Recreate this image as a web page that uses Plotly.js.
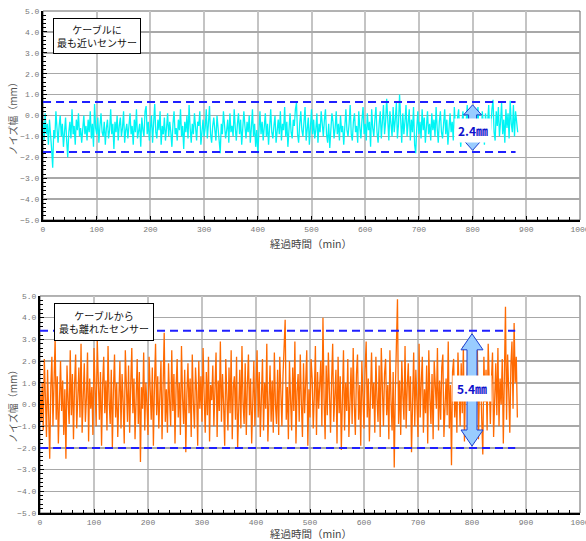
<!DOCTYPE html>
<html>
<head>
<meta charset="utf-8">
<script src="https://cdn.plot.ly/plotly-3.0.1.min.js"></script>
<style>html,body{margin:0;padding:0;background:#fff;}#chart{width:586px;height:541px;}</style>
</head>
<body>
<div id="chart"></div>
<script>
// time axis: start and step (minutes)
var timeStart = 0;
var timeStep = 2;

// sensor closest to the cable (mm)
var nearNoise = [
-0.3,-1.2,0.1,-0.9,-0.4,-1.4,-0.2,-0.8,-1.6,-2.5,-0.7,-1.1,0.2,-0.6,-1.3,-0.5,0.0,-1.0,-0.4,-1.5,
-0.6,-0.1,-1.2,-2.0,-0.8,-0.3,-1.1,0.3,-0.9,-0.5,-1.4,-0.2,-0.7,0.1,-1.0,-0.6,-1.3,-0.4,0.0,-0.9,
-0.5,-1.2,-0.2,-0.8,0.2,-1.1,-0.4,-1.5,0.55,-0.6,-0.9,-0.1,-1.3,-0.5,0.1,-0.8,-1.0,-0.3,-1.4,-0.6,
-0.2,-1.1,-0.7,0.3,-0.9,-0.4,-1.6,-0.3,-0.8,0.0,-1.2,-0.5,-0.1,-1.0,-0.6,0.2,-1.3,-0.7,-0.4,-1.1,
-0.3,0.1,-0.9,-0.5,-1.4,-0.2,-0.8,0.3,-1.1,-0.6,-0.4,-1.5,-0.1,-0.7,-1.0,0.2,0.45,-0.9,-0.3,-1.2,
-0.6,0.0,-1.3,-0.4,0.55,-0.8,-1.1,-0.2,-0.7,0.2,-1.4,-0.5,-0.9,-0.1,-1.2,-0.6,0.1,-1.0,-0.3,-0.8,
-1.5,-0.4,0.2,-0.9,-0.6,-1.2,-0.2,-0.7,0.3,-1.0,-0.5,-1.6,-0.3,-0.8,0.0,-1.1,0.5,-0.6,-1.3,-0.4,
-0.9,0.1,-0.7,-1.2,-0.3,-0.5,0.2,-1.4,-0.8,-0.2,-1.0,-0.6,0.3,-1.1,-0.4,0.45,-0.9,-1.3,-0.5,-0.1,
-0.7,-1.2,0.0,-0.6,-1.5,-1.8,-0.4,-0.9,0.2,-0.3,-1.1,-0.7,-0.2,-1.3,0.1,-0.8,-0.5,-1.0,0.3,-0.6,
-1.2,-0.4,0.1,-0.9,-0.2,-1.4,-0.7,0.2,-0.5,-1.1,-0.3,-0.8,0.0,-1.3,-0.6,0.3,-1.0,-0.4,-1.5,-0.7,
-1.8,-0.5,0.2,-0.9,-0.3,-1.2,-0.6,0.1,-1.0,-0.4,-1.4,-0.2,0.3,-0.8,-1.1,-0.5,0.0,-1.3,-0.7,-0.2,
-0.9,0.2,-1.2,-0.4,-0.7,0.4,-1.0,-0.3,-1.5,-0.6,0.1,-0.8,-1.1,-0.2,-0.5,0.3,0.6,-0.9,-1.3,-0.4,
0.2,-0.7,-1.0,-0.3,0.4,-1.2,-0.6,-0.1,-1.4,-0.5,0.3,-0.9,-0.2,-1.1,-0.7,0.1,-1.3,-0.4,-0.8,0.2,
-0.5,-1.0,-0.2,0.3,-0.9,-1.3,-0.4,-1.55,-0.7,0.1,-0.3,-1.1,-0.6,0.2,-0.9,-0.4,-1.2,0.0,-0.8,-0.5,
-1.4,-0.2,0.3,-0.7,-1.0,-0.4,0.5,-0.9,-1.2,-0.3,0.1,-0.8,-0.5,-1.3,0.2,-0.6,-1.1,-0.2,0.4,-0.9,
-0.4,-1.2,0.1,-0.7,-0.3,-1.5,0.3,-0.6,-1.0,-0.2,0.4,-0.8,-1.3,-0.4,0.2,-1.1,-0.5,0.5,-0.9,-0.3,
0.8,-0.7,-1.2,0.2,-0.5,-1.0,0.4,-0.8,-0.2,0.6,-1.1,-0.4,1.0,-0.6,-1.3,0.1,-0.9,-0.3,0.5,-1.0,
-0.5,0.3,-1.2,-0.2,-0.8,0.4,-1.4,-1.8,-0.6,0.2,-0.9,-0.3,-1.1,0.3,-0.7,-0.1,-1.3,-0.5,0.2,-0.9,
-0.4,-1.2,0.1,-0.7,-0.2,-1.0,0.4,-0.6,-1.3,-0.3,0.2,-0.8,-1.1,-0.4,0.3,-0.9,-0.2,-1.4,-0.6,0.1,
-0.8,-0.3,-1.2,0.4,-0.6,-1.0,-0.1,0.3,-0.9,-1.5,-0.4,0.2,-0.7,-1.1,-0.3,0.5,-0.8,-1.2,0.0,-0.5,
-1.0,0.3,-0.6,-1.3,-0.2,0.4,-0.9,-0.5,-1.1,0.2,-0.4,-1.4,0.1,-0.7,-0.3,0.5,-1.0,-0.6,0.3,0.75,
-0.8,-1.2,0.2,-0.5,0.4,-1.0,-0.3,0.6,-0.9,-0.2,-1.3,0.3,-0.6,0.1,-1.1,0.7,-0.4,-0.8,0.5,-1.0,
0.2,-0.4,-0.8
];

// sensor farthest from the cable (mm)
var farNoise = [
0.5,-0.8,1.0,-1.2,2.1,0.3,-1.5,1.6,-0.4,-2.5,0.8,2.2,-1.0,0.6,3.05,-0.7,1.3,-1.8,0.4,2.0,
-0.3,1.1,-1.4,0.7,-2.5,1.8,0.2,-0.9,2.5,-0.5,1.4,-1.6,0.9,2.3,-1.1,0.1,1.7,-0.6,2.8,-1.3,
0.6,1.9,-0.8,0.3,2.4,-1.7,1.2,-0.2,0.8,-1.4,2.6,0.0,-1.0,3.0,0.5,-0.7,1.5,-1.9,0.9,2.2,
-0.4,1.1,-1.2,2.7,0.2,-0.9,1.6,-2.0,0.7,2.3,-0.6,1.0,-1.5,0.4,2.0,-1.1,1.4,0.1,-1.8,2.5,
0.3,-0.8,1.8,-1.3,0.9,2.6,-0.4,1.2,-1.6,0.5,2.1,-0.9,1.5,-2.65,0.8,-0.2,2.4,-1.2,1.0,0.0,
-1.4,2.2,0.6,-0.7,1.7,-1.9,0.9,2.8,-0.5,1.3,-1.1,0.4,2.0,-1.6,1.1,3.3,-0.8,0.7,-1.3,1.9,
0.2,-1.0,2.5,-0.3,1.4,-1.8,0.8,2.1,-0.6,1.0,-1.4,2.7,0.3,-0.9,1.6,-2.2,0.5,1.9,-0.4,1.2,
-1.5,2.3,0.1,-1.1,1.7,0.6,-1.9,2.0,-0.2,1.3,-0.8,2.6,0.4,-1.3,1.5,-0.5,2.2,-1.7,0.9,0.2,
1.8,-1.0,0.7,2.4,-1.5,1.1,-0.3,2.9,-0.8,1.4,0.0,-1.9,2.1,0.5,-1.2,1.7,-0.4,2.5,-1.6,0.8,
1.3,-0.7,2.2,-2.0,0.6,1.6,-1.1,2.7,0.1,-0.9,1.9,-1.4,0.9,2.3,-0.5,1.2,-1.8,0.4,2.0,-1.0,
0.7,2.5,-0.6,1.5,-1.5,0.3,2.1,-1.2,1.0,-0.2,2.8,-1.7,0.5,1.8,-0.8,1.1,-1.3,2.4,0.0,-0.9,
1.6,-1.4,2.2,0.4,-1.0,1.3,2.6,3.9,-0.7,0.8,-1.6,2.0,0.2,-1.2,1.7,-0.3,2.9,-1.8,0.6,1.4,
-0.8,2.3,0.1,-1.5,1.9,-0.4,1.0,2.5,-1.9,0.7,-0.6,2.1,1.2,-1.1,0.4,2.7,-1.4,1.5,-0.2,0.9,
2.0,-1.0,4.0,0.3,-1.6,1.8,-0.5,2.4,0.6,-1.3,1.1,2.8,-0.8,0.2,1.6,-1.8,2.2,-0.4,1.3,-2.1,
0.8,2.5,-1.2,1.0,-0.3,2.1,-1.5,0.5,1.7,-0.9,2.6,0.0,-1.4,1.4,2.3,-0.7,0.9,-1.9,2.0,0.4,
-1.1,1.6,2.9,-0.6,1.2,-1.7,0.7,2.4,-0.2,1.0,-1.3,2.2,0.3,-0.8,1.8,-1.5,2.6,0.5,-1.0,1.4,
2.1,-0.5,0.9,-1.6,2.5,0.2,-1.2,1.5,-2.9,0.6,2.3,4.85,-0.9,1.1,-1.4,2.0,0.4,-0.7,2.7,-1.1,
0.8,1.9,-0.3,1.3,-2.2,0.5,2.4,-1.0,1.6,0.1,-1.5,2.8,-0.6,1.0,2.2,-1.3,0.7,-0.4,1.8,-1.8,
2.5,0.3,-0.9,1.4,-1.6,2.0,0.6,-0.2,2.6,-1.2,1.1,-0.7,1.7,2.3,-1.5,0.4,1.2,-0.5,2.9,-1.1,
0.9,-2.8,1.5,2.1,-0.6,0.8,-1.3,2.4,0.2,-1.0,1.9,-0.4,2.7,-1.7,1.0,0.3,2.2,-0.8,1.4,-1.4,
2.0,0.5,-1.1,1.7,-0.3,2.5,-1.6,0.9,1.3,-0.7,-2.3,2.2,0.1,1.6,-1.2,2.8,0.4,-0.9,1.1,2.4,
-1.5,0.7,1.9,-0.5,2.6,-1.0,1.2,0.0,2.1,-1.8,1.5,4.5,-0.7,2.3,0.6,-1.3,1.8,2.9,-0.2,3.75,
1.0,2.2,-0.6
];

// band limits (mm) and band labels
var nearBand = [0.65, -1.75];
var farBand = [3.4, -2.0];
var bandEnd = 880;
var arrowAt = 800;
var nearLabel = "2.4㎜";
var farLabel = "5.4㎜";
var nearTitle = "ケーブルに<br>最も近いセンサー";
var farTitle = "ケーブルから<br>最も離れたセンサー";
var xTitle = "経過時間（min）";
var yTitle = "ノイズ幅（mm）";

var tickFont = {family: "Liberation Mono, DejaVu Sans Mono, monospace", size: 8, color: "#777"};
var jp = "Noto Sans CJK JP, sans-serif";

function xAxis(domain, anchor) {
  return {
    domain: domain, anchor: anchor, range: [0, 1000], dtick: 100, tick0: 0,
    showgrid: true, gridcolor: "#c4c4c4", gridwidth: 2,
    zeroline: false, showline: true, linecolor: "#000", linewidth: 2,
    ticks: "inside", ticklen: 4, tickcolor: "#000", tickwidth: 1,
    minor: {ticks: "inside", dtick: 20, ticklen: 3, tickcolor: "#000", showgrid: false},
    tickfont: tickFont, ticklabeloverflow: "allow", fixedrange: true
  };
}
function yAxis(domain, anchor) {
  return {
    domain: domain, anchor: anchor, range: [-5, 5], dtick: 1, tick0: 0, tickformat: ".1f",
    showgrid: true, gridcolor: "#a8a8a8", gridwidth: 1.5,
    zeroline: false, showline: true, linecolor: "#000", linewidth: 2,
    ticks: "inside", ticklen: 4, tickcolor: "#000", tickwidth: 1,
    minor: {ticks: "inside", dtick: 0.2, ticklen: 3, tickcolor: "#000", showgrid: false},
    tickfont: tickFont, ticklabeloverflow: "allow", fixedrange: true
  };
}

function arrowPath(top, bot, hw, sw, hh) {
  var t = top, b = bot, ht = top - hh, hb = bot + hh;
  return "M0," + t + " L" + hw + "," + ht + " L" + sw + "," + ht + " L" + sw + "," + hb +
    " L" + hw + "," + hb + " L0," + b + " L" + (-hw) + "," + hb + " L" + (-sw) + "," + hb +
    " L" + (-sw) + "," + ht + " L" + (-hw) + "," + ht + " Z";
}

function bandShapes(xr, yr, band, tipInset, headH, hw, sw) {
  var s = [];
  band.forEach(function (lv) {
    s.push({type: "line", xref: xr, yref: yr, x0: 0, x1: bandEnd, y0: lv, y1: lv,
      line: {color: "#1f1fff", width: 2, dash: "8px,5px"}});
  });
  s.push({type: "path", xref: xr, yref: yr, xsizemode: "pixel", xanchor: arrowAt,
    path: arrowPath(band[0] - tipInset, band[1] + tipInset * 0.6, hw, sw, headH),
    fillcolor: "#99ccff", line: {color: "#1a3fd0", width: 1}});
  s.push({type: "rect", xref: xr + " domain", yref: yr + " domain", x0: 0, x1: 1, y0: 0, y1: 1,
    line: {color: "#666", width: 1}, layer: "below"});
  return s;
}

var traces = [
  {x0: timeStart, dx: timeStep, y: nearNoise, type: "scatter", mode: "lines",
   line: {color: "#00f5f5", width: 1.3}, xaxis: "x", yaxis: "y", hoverinfo: "skip"},
  {x0: timeStart, dx: timeStep, y: farNoise, type: "scatter", mode: "lines",
   line: {color: "#ff6a00", width: 1.3}, xaxis: "x2", yaxis: "y2", hoverinfo: "skip"}
];

var shapes = [].concat(
  bandShapes("x", "y", nearBand, 0.14, 0.48, 9, 4),
  bandShapes("x2", "y2", farBand, 0.14, 0.74, 11, 5)
);

var boxFont = {family: jp, size: 10, color: "#111"};
var labelFont = {family: jp, size: 12, color: "#1010cc", weight: "bold"};
var titleFont = {family: jp, size: 10.5, color: "#444"};

var annotations = [
  {text: nearTitle, xref: "x domain", yref: "y domain", x: 0.019, y: 0.967, xanchor: "left", yanchor: "top",
   showarrow: false, font: boxFont, bgcolor: "#fff", bordercolor: "#000", borderwidth: 1, borderpad: 3, align: "center"},
  {text: farTitle, xref: "x2 domain", yref: "y2 domain", x: 0.026, y: 0.968, xanchor: "left", yanchor: "top",
   showarrow: false, font: boxFont, bgcolor: "#fff", bordercolor: "#000", borderwidth: 1, borderpad: 4, align: "center"},
  {text: "<b>" + nearLabel + "</b>", xref: "x", yref: "y", x: arrowAt, y: (nearBand[0] + nearBand[1]) / 2 - 0.15,
   showarrow: false, font: labelFont, bgcolor: "#fff", borderpad: 3},
  {text: "<b>" + farLabel + "</b>", xref: "x2", yref: "y2", x: arrowAt, y: (farBand[0] + farBand[1]) / 2 + 0.05,
   showarrow: false, font: labelFont, bgcolor: "#fff", borderpad: 4},
  {text: xTitle, xref: "paper", yref: "paper", x: 0.501, y: 0.536, xanchor: "center", yanchor: "middle",
   showarrow: false, font: titleFont},
  {text: xTitle, xref: "paper", yref: "paper", x: 0.501, y: -0.041, xanchor: "center", yanchor: "middle",
   showarrow: false, font: titleFont},
  {text: yTitle, xref: "paper", yref: "paper", x: -0.052, y: 0.79, xanchor: "center", yanchor: "middle",
   textangle: -90, showarrow: false, font: {family: jp, size: 10, color: "#555"}},
  {text: yTitle, xref: "paper", yref: "paper", x: -0.052, y: 0.217, xanchor: "center", yanchor: "middle",
   textangle: -90, showarrow: false, font: {family: jp, size: 10, color: "#555"}}
];

var layout = {
  width: 586, height: 541,
  margin: {l: 40, r: 6, t: 11, b: 28},
  paper_bgcolor: "#fff", plot_bgcolor: "#fff",
  showlegend: false,
  xaxis: xAxis([0.0056, 1], "y"),
  yaxis: yAxis([0.5837, 1], "x"),
  xaxis2: xAxis([0, 1], "y2"),
  yaxis2: yAxis([0, 0.4323], "x2"),
  shapes: shapes,
  annotations: annotations
};

Plotly.newPlot("chart", traces, layout, {staticPlot: true, displayModeBar: false});
</script>
</body>
</html>
